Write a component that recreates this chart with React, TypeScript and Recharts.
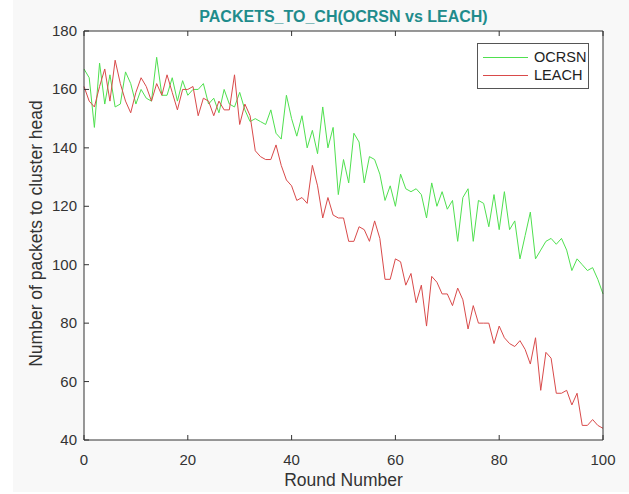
import { LineChart, Line, XAxis, YAxis, CartesianGrid } from "recharts";

// values, one per round (0..100)
const ocrsn = [
  167, 164, 147, 169, 155, 165, 154, 155, 166, 162, 155, 160, 157, 156, 171, 158, 158, 164, 156, 163,
  158, 160, 160, 162, 155, 157, 152, 160, 155, 154, 159, 153, 149, 150, 149, 148, 153, 145, 143, 158,
  150, 144, 151, 140, 146, 138, 154, 140, 147, 124, 136, 128, 145, 142, 128, 137, 136, 131, 122, 127,
  120, 131, 126, 125, 126, 124, 116, 128, 120, 125, 119, 122, 108, 123, 126, 108, 122, 121, 113, 124,
  112, 125, 112, 115, 102, 110, 118, 102, 105, 108, 109, 107, 109, 105, 98, 102, 100, 98, 99, 95,
  90,
];

const leach = [
  161, 156, 154, 161, 167, 156, 170, 162, 156, 152, 159, 164, 161, 156, 162, 158, 165, 159, 153, 160,
  160, 161, 151, 157, 156, 151, 156, 153, 153, 165, 148, 155, 151, 139, 137, 136, 136, 141, 134, 129,
  127, 122, 123, 121, 134, 127, 116, 123, 117, 116, 116, 108, 108, 113, 112, 108, 115, 109, 95, 95,
  102, 101, 93, 97, 87, 93, 79, 96, 94, 90, 90, 86, 92, 88, 78, 86, 80, 80, 80, 73,
  79, 75, 73, 72, 74, 71, 66, 75, 57, 70, 68, 56, 56, 57, 52, 56, 45, 45, 47, 45,
  44,
];

const rounds = ocrsn.map((_, i) => i);
const xTicks = [0, 20, 40, 60, 80, 100];
const yTicks = [40, 60, 80, 100, 120, 140, 160, 180];
const seriesNames = ["OCRSN", "LEACH"];

const data = rounds.map((r, i) => ({ round: r, OCRSN: ocrsn[i], LEACH: leach[i] }));

const FONT = "'Liberation Sans', Arial, Helvetica, sans-serif";
const INK = "#333333";
const COLORS: Record<string, string> = { OCRSN: "#4fe04f", LEACH: "#d94a4a" };

const BottomTick = ({ x, y, payload }: any) => (
  <g>
    <line x1={x} x2={x} y1={y - 13} y2={y - 18} stroke={INK} />
    <text x={x} y={y} dy={12} textAnchor="middle" fill={INK} fontSize={15} fontFamily={FONT}>
      {payload.value}
    </text>
  </g>
);

const LeftTick = ({ x, y, payload }: any) => (
  <g>
    <line x1={x + 7} x2={x + 12} y1={y} y2={y} stroke={INK} />
    <text x={x} y={y} dy={5} textAnchor="end" fill={INK} fontSize={15} fontFamily={FONT}>
      {payload.value}
    </text>
  </g>
);

const TopTick = ({ x, y }: any) => <line x1={x} x2={x} y1={y} y2={y + 5} stroke={INK} />;
const RightTick = ({ x, y }: any) => <line x1={x} x2={x - 5} y1={y} y2={y} stroke={INK} />;

export default function App() {
  return (
    <div style={{ position: "fixed", left: 0, top: 0, width: 629, height: 494, background: "#fff" }}>
      <div style={{ position: "absolute", left: 13, top: 0, width: 616, height: 492, background: "#f8f8f8" }} />
      <div style={{ position: "absolute", left: 0, top: 0 }}>
        <LineChart width={629} height={494} data={data} margin={{ top: 30, right: 25, bottom: 0, left: 0 }}>
          <CartesianGrid horizontal={false} vertical={false} fill="#fff" stroke="none" />
          <XAxis
            dataKey="round"
            type="number"
            domain={[0, 100]}
            ticks={xTicks}
            height={54}
            tickSize={0}
            tickMargin={13}
            tick={<BottomTick />}
            axisLine={{ stroke: INK }}
          />
          <XAxis
            xAxisId="top"
            orientation="top"
            dataKey="round"
            type="number"
            domain={[0, 100]}
            ticks={xTicks}
            height={1}
            tickSize={0}
            tickMargin={0}
            tick={<TopTick />}
            axisLine={{ stroke: INK }}
          />
          <YAxis
            type="number"
            domain={[40, 180]}
            ticks={yTicks}
            width={84}
            tickSize={0}
            tickMargin={7}
            tick={<LeftTick />}
            axisLine={{ stroke: INK }}
          />
          <YAxis
            yAxisId="right"
            orientation="right"
            type="number"
            domain={[40, 180]}
            ticks={yTicks}
            width={1}
            tickSize={0}
            tickMargin={0}
            tick={<RightTick />}
            axisLine={{ stroke: INK }}
          />
          {seriesNames.map((name) => (
            <Line
              key={name}
              type="linear"
              dataKey={name}
              stroke={COLORS[name]}
              strokeWidth={1}
              dot={false}
              isAnimationActive={false}
            />
          ))}
        </LineChart>
      </div>
      <div
        style={{
          position: "absolute",
          left: 477,
          top: 43,
          width: 112,
          boxSizing: "border-box",
          background: "#fff",
          border: "1px solid #555",
          padding: "4px 0 4px 5px",
          fontFamily: FONT,
          fontSize: 14.5,
          color: "#222",
        }}
      >
        {seriesNames.map((name) => (
          <div key={name} style={{ display: "flex", alignItems: "center", height: 18 }}>
            <span style={{ display: "inline-block", width: 45, height: 1, background: COLORS[name], marginRight: 6 }} />
            <span>{name}</span>
          </div>
        ))}
      </div>
      <div
        style={{
          position: "absolute",
          left: 84,
          width: 519,
          top: 8,
          textAlign: "center",
          fontFamily: FONT,
          fontWeight: "bold",
          fontSize: 16,
          color: "#1f8c8c",
        }}
      >
        PACKETS_TO_CH(OCRSN vs LEACH)
      </div>
      <div
        style={{
          position: "absolute",
          left: 84,
          width: 519,
          top: 470,
          textAlign: "center",
          fontFamily: FONT,
          fontSize: 17.5,
          color: INK,
        }}
      >
        Round Number
      </div>
      <div
        style={{
          position: "absolute",
          left: 36 - 160,
          width: 320,
          top: 234 - 11,
          textAlign: "center",
          fontFamily: FONT,
          fontSize: 17.5,
          color: INK,
          transform: "rotate(-90deg)",
        }}
      >
        Number of packets to cluster head
      </div>
    </div>
  );
}
